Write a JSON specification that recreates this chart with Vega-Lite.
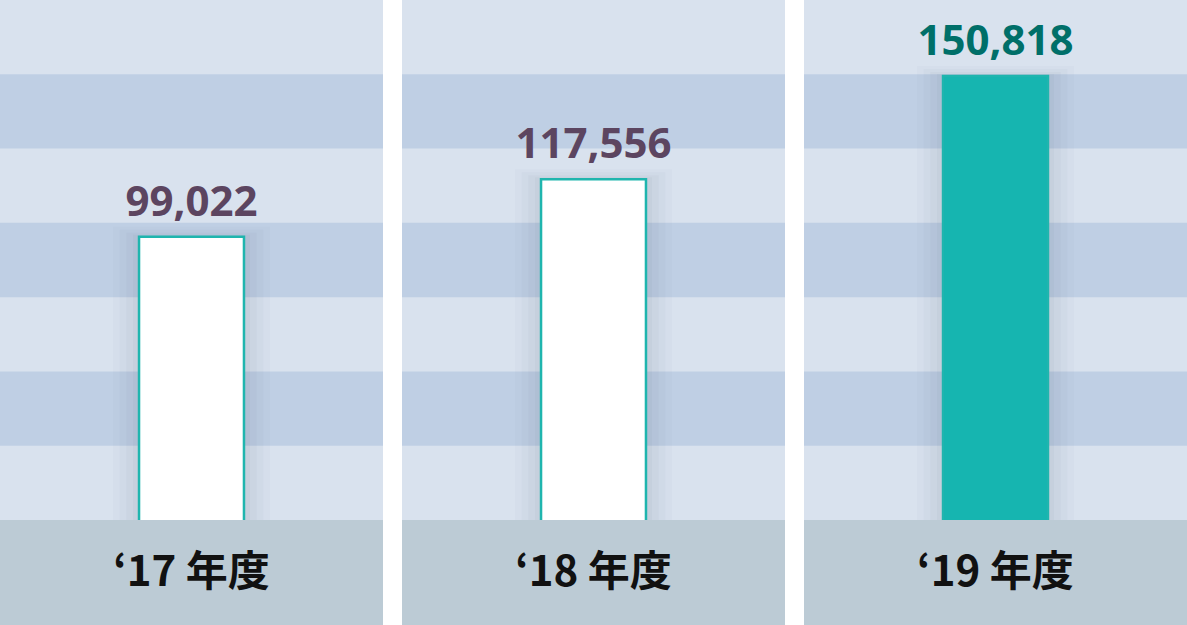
{
  "$schema": "https://vega.github.io/schema/vega-lite/v6.json",
  "width": 1187,
  "height": 625,
  "autosize": {"type": "fit", "contains": "padding"},
  "padding": 0,
  "background": "#ffffff",
  "config": {"view": {"stroke": null}},
  "datasets": {
    "bars": [
      {"year": "‘17 年度", "value": 99022, "highlight": "no"},
      {"year": "‘18 年度", "value": 117556, "highlight": "no"},
      {"year": "‘19 年度", "value": 150818, "highlight": "yes"}
    ],
    "stripes": [
      {"year": "‘17 年度", "s0": 1, "s1": 2},
      {"year": "‘17 年度", "s0": 3, "s1": 4},
      {"year": "‘17 年度", "s0": 5, "s1": 6},
      {"year": "‘18 年度", "s0": 1, "s1": 2},
      {"year": "‘18 年度", "s0": 3, "s1": 4},
      {"year": "‘18 年度", "s0": 5, "s1": 6},
      {"year": "‘19 年度", "s0": 1, "s1": 2},
      {"year": "‘19 年度", "s0": 3, "s1": 4},
      {"year": "‘19 年度", "s0": 5, "s1": 6}
    ]
  },
  "encoding": {
    "x": {
      "field": "year",
      "type": "nominal",
      "sort": null,
      "axis": null,
      "scale": {"paddingInner": 0.04726, "paddingOuter": 0}
    }
  },
  "layer": [
    {
      "data": {"name": "bars"},
      "mark": {"type": "rect", "color": "#d9e2ee"},
      "encoding": {
        "y": {"datum": 0, "type": "quantitative", "axis": null, "scale": {"domain": [0, 8.4135], "reverse": true, "nice": false, "zero": false}},
        "y2": {"datum": 7}
      }
    },
    {
      "data": {"name": "stripes"},
      "mark": {"type": "rect", "color": "#bfcfe4"},
      "encoding": {
        "y": {"field": "s0", "type": "quantitative", "axis": null, "scale": {"domain": [0, 8.4135], "reverse": true, "nice": false, "zero": false}},
        "y2": {"field": "s1"}
      }
    },
    {
      "data": {"name": "bars"},
      "mark": {"type": "bar", "width": {"band": 0.41}, "color": "#4a5a72", "opacity": 0.025, "yOffset": -10},
      "encoding": {
        "y": {"field": "value", "type": "quantitative", "axis": null, "scale": {"domain": [-26185, 175363], "nice": false}}
      }
    },
    {
      "data": {"name": "bars"},
      "mark": {"type": "bar", "width": {"band": 0.375}, "color": "#4a5a72", "opacity": 0.03, "yOffset": -7},
      "encoding": {
        "y": {"field": "value", "type": "quantitative", "axis": null, "scale": {"domain": [-26185, 175363], "nice": false}}
      }
    },
    {
      "data": {"name": "bars"},
      "mark": {"type": "bar", "width": {"band": 0.34}, "color": "#4a5a72", "opacity": 0.035, "yOffset": -4},
      "encoding": {
        "y": {"field": "value", "type": "quantitative", "axis": null, "scale": {"domain": [-26185, 175363], "nice": false}}
      }
    },
    {
      "data": {"name": "bars"},
      "mark": {"type": "bar", "width": {"band": 0.305}, "color": "#4a5a72", "opacity": 0.04, "yOffset": -2},
      "encoding": {
        "y": {"field": "value", "type": "quantitative", "axis": null, "scale": {"domain": [-26185, 175363], "nice": false}}
      }
    },
    {
      "data": {"name": "bars"},
      "mark": {"type": "bar", "width": {"band": 0.274}, "strokeWidth": 2.5, "stroke": "#1fb5ae"},
      "encoding": {
        "y": {"field": "value", "type": "quantitative", "axis": null, "scale": {"domain": [-26185, 175363], "nice": false}},
        "fill": {
          "field": "highlight",
          "type": "nominal",
          "legend": null,
          "scale": {"domain": ["no", "yes"], "range": ["#ffffff", "#16b5b0"]}
        }
      }
    },
    {
      "data": {"name": "bars"},
      "mark": {"type": "text", "font": "Open Sans", "fontWeight": "bold", "fontSize": 42, "baseline": "alphabetic", "dy": -21},
      "encoding": {
        "y": {"field": "value", "type": "quantitative", "axis": null, "scale": {"domain": [-26185, 175363], "nice": false}},
        "text": {"field": "value", "type": "quantitative", "format": ","},
        "color": {
          "field": "highlight",
          "type": "nominal",
          "legend": null,
          "scale": {"domain": ["no", "yes"], "range": ["#5c4560", "#006f69"]}
        }
      }
    },
    {
      "data": {"name": "bars"},
      "mark": {"type": "rect", "color": "#bccbd5"},
      "encoding": {
        "y": {"datum": 7, "type": "quantitative", "axis": null, "scale": {"domain": [0, 8.4135], "reverse": true, "nice": false, "zero": false}},
        "y2": {"datum": 8.4135}
      }
    },
    {
      "data": {"name": "bars"},
      "mark": {"type": "text", "font": "Noto Sans CJK JP", "fontWeight": "bold", "fontSize": 42, "baseline": "middle", "color": "#111111"},
      "encoding": {
        "y": {"datum": 7.71, "type": "quantitative", "axis": null, "scale": {"domain": [0, 8.4135], "reverse": true, "nice": false, "zero": false}},
        "text": {"field": "year", "type": "nominal"}
      }
    }
  ],
  "resolve": {"scale": {"y": "independent", "color": "independent", "fill": "independent"}}
}
